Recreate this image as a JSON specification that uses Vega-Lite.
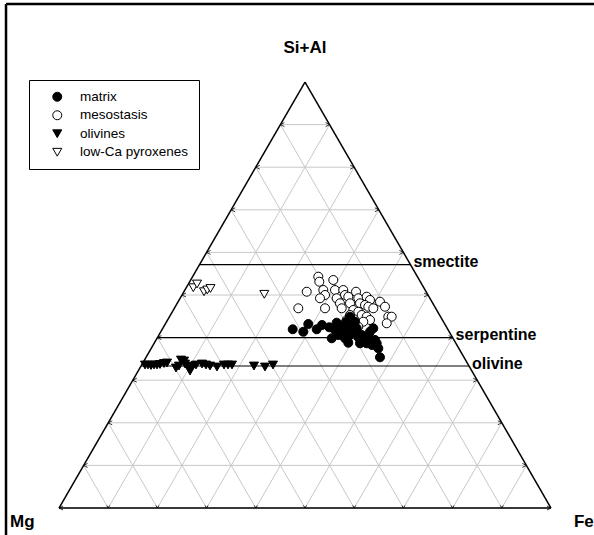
{
  "$schema": "https://vega.github.io/schema/vega-lite/v6.json",
  "width": 594,
  "height": 535,
  "padding": 0,
  "autosize": "none",
  "background": "white",
  "config": {
    "view": {"stroke": null},
    "font": "Liberation Sans",
    "legend": {
      "orient": "none",
      "legendX": 29,
      "legendY": 80,
      "strokeColor": "black",
      "strokeWidth": 1,
      "fillColor": "white",
      "padding": 10,
      "labelFont": "Liberation Sans",
      "labelFontSize": 13.5,
      "labelColor": "black",
      "symbolSize": 81,
      "symbolStrokeColor": "black",
      "symbolStrokeWidth": 1,
      "rowPadding": 3.5,
      "labelOffset": 16,
      "symbolOffset": 11.5
    }
  },
  "datasets": {
    "grid": [
      {"kind": "h", "x": 0, "s": 0, "x2": 100, "s2": 0},
      {"kind": "h", "x": 5, "s": 10, "x2": 95, "s2": 10},
      {"kind": "h", "x": 10, "s": 20, "x2": 90, "s2": 20},
      {"kind": "h", "x": 15, "s": 30, "x2": 85, "s2": 30},
      {"kind": "h", "x": 20, "s": 40, "x2": 80, "s2": 40},
      {"kind": "h", "x": 25, "s": 50, "x2": 75, "s2": 50},
      {"kind": "h", "x": 30, "s": 60, "x2": 70, "s2": 60},
      {"kind": "h", "x": 35, "s": 70, "x2": 65, "s2": 70},
      {"kind": "h", "x": 40, "s": 80, "x2": 60, "s2": 80},
      {"kind": "h", "x": 45, "s": 90, "x2": 55, "s2": 90},
      {"kind": "l", "x": 10, "s": 0, "x2": 55, "s2": 90},
      {"kind": "l", "x": 20, "s": 0, "x2": 60, "s2": 80},
      {"kind": "l", "x": 30, "s": 0, "x2": 65, "s2": 70},
      {"kind": "l", "x": 40, "s": 0, "x2": 70, "s2": 60},
      {"kind": "l", "x": 50, "s": 0, "x2": 75, "s2": 50},
      {"kind": "l", "x": 60, "s": 0, "x2": 80, "s2": 40},
      {"kind": "l", "x": 70, "s": 0, "x2": 85, "s2": 30},
      {"kind": "l", "x": 80, "s": 0, "x2": 90, "s2": 20},
      {"kind": "l", "x": 90, "s": 0, "x2": 95, "s2": 10},
      {"kind": "r", "x": 10, "s": 0, "x2": 5, "s2": 10},
      {"kind": "r", "x": 20, "s": 0, "x2": 10, "s2": 20},
      {"kind": "r", "x": 30, "s": 0, "x2": 15, "s2": 30},
      {"kind": "r", "x": 40, "s": 0, "x2": 20, "s2": 40},
      {"kind": "r", "x": 50, "s": 0, "x2": 25, "s2": 50},
      {"kind": "r", "x": 60, "s": 0, "x2": 30, "s2": 60},
      {"kind": "r", "x": 70, "s": 0, "x2": 35, "s2": 70},
      {"kind": "r", "x": 80, "s": 0, "x2": 40, "s2": 80},
      {"kind": "r", "x": 90, "s": 0, "x2": 45, "s2": 90}
    ],
    "edges": [
      {"x": 0, "s": 0, "x2": 100, "s2": 0},
      {"x": 0, "s": 0, "x2": 50, "s2": 100},
      {"x": 100, "s": 0, "x2": 50, "s2": 100}
    ],
    "frame": [
      {"x": -10.77, "s": -6.338, "x2": -10.77, "s2": 118.3},
      {"x": -10.77, "s": 118.3, "x2": 108.74, "s2": 118.3}
    ],
    "minerals": [
      {"name": "smectite", "x": 28.57, "s": 57.14, "x2": 71.43},
      {"name": "serpentine", "x": 20, "s": 40, "x2": 80},
      {"name": "olivine", "x": 16.67, "s": 33.33, "x2": 83.33}
    ],
    "apex": [{"label": "Si+Al", "x": 50, "s": 108}],
    "corners": [
      {"label": "Mg", "x": -9.96, "s": -3.3},
      {"label": "Fe", "x": 104.67, "s": -3.3}
    ],
    "pts": [
      {"g": "mesostasis", "x": 52.70, "s": 54.30},
      {"g": "mesostasis", "x": 52.91, "s": 53.12},
      {"g": "mesostasis", "x": 55.75, "s": 53.52},
      {"g": "mesostasis", "x": 50.35, "s": 50.77},
      {"g": "mesostasis", "x": 53.72, "s": 51.17},
      {"g": "mesostasis", "x": 54.07, "s": 50.00},
      {"g": "mesostasis", "x": 56.10, "s": 51.17},
      {"g": "mesostasis", "x": 57.78, "s": 51.17},
      {"g": "mesostasis", "x": 58.13, "s": 50.00},
      {"g": "mesostasis", "x": 60.37, "s": 50.77},
      {"g": "mesostasis", "x": 53.05, "s": 49.23},
      {"g": "mesostasis", "x": 56.44, "s": 49.23},
      {"g": "mesostasis", "x": 57.11, "s": 48.05},
      {"g": "mesostasis", "x": 58.80, "s": 49.60},
      {"g": "mesostasis", "x": 59.15, "s": 48.05},
      {"g": "mesostasis", "x": 60.83, "s": 49.23},
      {"g": "mesostasis", "x": 61.18, "s": 48.05},
      {"g": "mesostasis", "x": 62.54, "s": 49.60},
      {"g": "mesostasis", "x": 63.21, "s": 48.83},
      {"g": "mesostasis", "x": 65.24, "s": 48.43},
      {"g": "mesostasis", "x": 62.20, "s": 47.65},
      {"g": "mesostasis", "x": 62.87, "s": 47.25},
      {"g": "mesostasis", "x": 63.88, "s": 46.88},
      {"g": "mesostasis", "x": 66.26, "s": 47.25},
      {"g": "mesostasis", "x": 48.64, "s": 46.88},
      {"g": "mesostasis", "x": 54.07, "s": 46.88},
      {"g": "mesostasis", "x": 57.46, "s": 46.88},
      {"g": "mesostasis", "x": 59.82, "s": 46.48},
      {"g": "mesostasis", "x": 60.83, "s": 46.08},
      {"g": "mesostasis", "x": 61.52, "s": 45.31},
      {"g": "mesostasis", "x": 62.54, "s": 44.91},
      {"g": "mesostasis", "x": 63.21, "s": 44.13},
      {"g": "mesostasis", "x": 66.93, "s": 44.91},
      {"g": "mesostasis", "x": 67.62, "s": 44.91},
      {"g": "mesostasis", "x": 66.61, "s": 43.36},
      {"g": "mesostasis", "x": 59.15, "s": 45.31},
      {"g": "mesostasis", "x": 59.49, "s": 44.13},
      {"g": "mesostasis", "x": 61.85, "s": 43.73},
      {"g": "mesostasis", "x": 58.48, "s": 44.13},
      {"g": "mesostasis", "x": 60.83, "s": 42.56},
      {"g": "matrix", "x": 47.50, "s": 41.95},
      {"g": "matrix", "x": 49.65, "s": 41.38},
      {"g": "matrix", "x": 50.67, "s": 43.19},
      {"g": "matrix", "x": 52.38, "s": 41.95},
      {"g": "matrix", "x": 54.94, "s": 42.42},
      {"g": "matrix", "x": 56.10, "s": 41.78},
      {"g": "matrix", "x": 56.44, "s": 43.50},
      {"g": "matrix", "x": 56.77, "s": 40.61},
      {"g": "matrix", "x": 57.46, "s": 41.38},
      {"g": "matrix", "x": 58.48, "s": 41.78},
      {"g": "matrix", "x": 58.13, "s": 39.84},
      {"g": "matrix", "x": 59.15, "s": 44.91},
      {"g": "matrix", "x": 59.49, "s": 42.96},
      {"g": "matrix", "x": 60.16, "s": 43.73},
      {"g": "matrix", "x": 59.82, "s": 41.38},
      {"g": "matrix", "x": 60.51, "s": 42.18},
      {"g": "matrix", "x": 61.52, "s": 40.61},
      {"g": "matrix", "x": 61.18, "s": 38.66},
      {"g": "matrix", "x": 62.87, "s": 40.21},
      {"g": "matrix", "x": 63.21, "s": 41.38},
      {"g": "matrix", "x": 63.88, "s": 42.18},
      {"g": "matrix", "x": 63.56, "s": 39.04},
      {"g": "matrix", "x": 64.57, "s": 38.66},
      {"g": "matrix", "x": 64.23, "s": 39.44},
      {"g": "matrix", "x": 64.90, "s": 37.49},
      {"g": "matrix", "x": 65.24, "s": 35.38},
      {"g": "matrix", "x": 58.80, "s": 38.80},
      {"g": "matrix", "x": 55.43, "s": 39.84},
      {"g": "matrix", "x": 60.83, "s": 40.07},
      {"g": "matrix", "x": 62.54, "s": 38.66},
      {"g": "matrix", "x": 57.11, "s": 42.49},
      {"g": "matrix", "x": 57.93, "s": 40.85},
      {"g": "matrix", "x": 58.94, "s": 40.38},
      {"g": "matrix", "x": 61.79, "s": 39.67},
      {"g": "matrix", "x": 63.62, "s": 38.26},
      {"g": "matrix", "x": 62.40, "s": 39.91},
      {"g": "matrix", "x": 53.46, "s": 42.96},
      {"g": "matrix", "x": 58.33, "s": 43.66},
      {"g": "olivines", "x": 17.48, "s": 33.57},
      {"g": "olivines", "x": 18.09, "s": 33.57},
      {"g": "olivines", "x": 18.70, "s": 33.45},
      {"g": "olivines", "x": 19.31, "s": 33.57},
      {"g": "olivines", "x": 19.92, "s": 33.57},
      {"g": "olivines", "x": 20.53, "s": 33.69},
      {"g": "olivines", "x": 21.34, "s": 33.92},
      {"g": "olivines", "x": 21.95, "s": 34.04},
      {"g": "olivines", "x": 23.78, "s": 32.86},
      {"g": "olivines", "x": 24.39, "s": 33.33},
      {"g": "olivines", "x": 24.80, "s": 34.74},
      {"g": "olivines", "x": 25.41, "s": 34.51},
      {"g": "olivines", "x": 25.61, "s": 33.80},
      {"g": "olivines", "x": 26.22, "s": 33.33},
      {"g": "olivines", "x": 26.63, "s": 32.16},
      {"g": "olivines", "x": 27.03, "s": 33.10},
      {"g": "olivines", "x": 27.85, "s": 33.57},
      {"g": "olivines", "x": 29.07, "s": 33.80},
      {"g": "olivines", "x": 29.88, "s": 33.57},
      {"g": "olivines", "x": 30.69, "s": 33.33},
      {"g": "olivines", "x": 32.11, "s": 33.10},
      {"g": "olivines", "x": 33.54, "s": 33.57},
      {"g": "olivines", "x": 34.35, "s": 33.57},
      {"g": "olivines", "x": 35.16, "s": 33.57},
      {"g": "olivines", "x": 39.63, "s": 33.33},
      {"g": "olivines", "x": 41.87, "s": 33.10},
      {"g": "olivines", "x": 43.50, "s": 33.57},
      {"g": "low-Ca pyroxenes", "x": 27.30, "s": 51.71},
      {"g": "low-Ca pyroxenes", "x": 28.05, "s": 52.58},
      {"g": "low-Ca pyroxenes", "x": 29.47, "s": 50.77},
      {"g": "low-Ca pyroxenes", "x": 30.14, "s": 51.17},
      {"g": "low-Ca pyroxenes", "x": 30.79, "s": 51.53},
      {"g": "low-Ca pyroxenes", "x": 41.73, "s": 50.16}
    ]
  },
  "encoding": {
    "x": {"field": "x", "type": "quantitative", "scale": {"domain": [-11.992, 108.74], "nice": false, "zero": false}, "axis": null},
    "y": {"field": "s", "type": "quantitative", "scale": {"domain": [-6.338, 119.249], "nice": false, "zero": false}, "axis": null}
  },
  "layer": [
    {
      "data": {"name": "grid"},
      "mark": {"type": "rule", "color": "#c8c8c8", "strokeWidth": 1},
      "encoding": {"x2": {"field": "x2"}, "y2": {"field": "s2"}}
    },
    {
      "data": {"name": "edges"},
      "mark": {"type": "rule", "color": "black", "strokeWidth": 1.5},
      "encoding": {"x2": {"field": "x2"}, "y2": {"field": "s2"}}
    },
    {
      "data": {"name": "frame"},
      "mark": {"type": "rule", "color": "black", "strokeWidth": 2.5},
      "encoding": {"x2": {"field": "x2"}, "y2": {"field": "s2"}}
    },
    {
      "data": {"name": "minerals"},
      "mark": {"type": "rule", "color": "black", "strokeWidth": 1.2},
      "encoding": {"x2": {"field": "x2"}, "y2": {"field": "s"}}
    },
    {
      "data": {"name": "grid"},
      "transform": [{"filter": "datum.kind === 'h'"}],
      "mark": {"type": "point", "shape": "M2,-1L0,0L2,1", "size": 16, "filled": false, "stroke": "black", "strokeWidth": 0.8, "opacity": 1}
    },
    {
      "data": {"name": "grid"},
      "transform": [{"filter": "datum.kind === 'h'"}],
      "mark": {"type": "point", "shape": "M-2,-1L0,0L-2,1", "size": 16, "filled": false, "stroke": "black", "strokeWidth": 0.8, "opacity": 1},
      "encoding": {"x": {"field": "x2", "type": "quantitative"}, "y": {"field": "s2", "type": "quantitative"}}
    },
    {
      "data": {"name": "grid"},
      "transform": [{"filter": "datum.kind === 'l'"}],
      "mark": {"type": "point", "shape": "M-1,-1.7L0,0L1,-1.7", "size": 9, "filled": false, "stroke": "black", "strokeWidth": 0.8, "opacity": 1}
    },
    {
      "data": {"name": "pts"},
      "mark": {"type": "point", "filled": true, "strokeWidth": 1, "opacity": 1},
      "encoding": {
        "shape": {"field": "g", "type": "nominal", "scale": {"domain": ["matrix", "mesostasis", "olivines", "low-Ca pyroxenes"], "range": ["circle", "circle", "triangle-down", "triangle-down"]}, "legend": {"title": null}},
        "fill": {"field": "g", "type": "nominal", "scale": {"domain": ["matrix", "mesostasis", "olivines", "low-Ca pyroxenes"], "range": ["black", "white", "black", "white"]}, "legend": {"title": null}},
        "stroke": {"field": "g", "type": "nominal", "scale": {"domain": ["matrix", "mesostasis", "olivines", "low-Ca pyroxenes"], "range": ["black", "black", "black", "black"]}, "legend": {"title": null}},
        "size": {"field": "g", "type": "nominal", "scale": {"domain": ["matrix", "mesostasis", "olivines", "low-Ca pyroxenes"], "range": [81, 81, 105, 105]}, "legend": {"title": null}}
      }
    },
    {
      "data": {"name": "minerals"},
      "mark": {"type": "text", "align": "left", "baseline": "middle", "dx": 3, "dy": -2.5, "font": "Liberation Sans", "fontWeight": "bold", "fontSize": 16, "color": "black"},
      "encoding": {"x": {"field": "x2", "type": "quantitative"}, "text": {"field": "name"}}
    },
    {
      "data": {"name": "apex"},
      "mark": {"type": "text", "align": "center", "baseline": "middle", "font": "Liberation Sans", "fontWeight": "bold", "fontSize": 17, "color": "black"},
      "encoding": {"text": {"field": "label"}}
    },
    {
      "data": {"name": "corners"},
      "mark": {"type": "text", "align": "left", "baseline": "middle", "font": "Liberation Sans", "fontWeight": "bold", "fontSize": 17, "color": "black"},
      "encoding": {"text": {"field": "label"}}
    }
  ]
}
